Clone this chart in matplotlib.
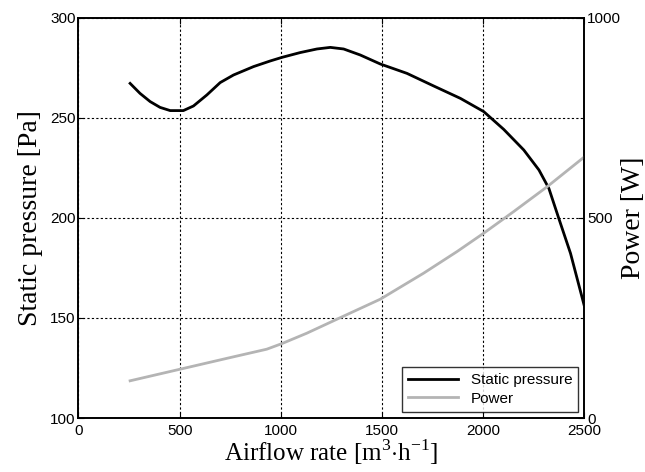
import matplotlib
matplotlib.use("Agg")
import matplotlib.pyplot as plt
import numpy as np

# airflow rate [m3/h] and readings taken from the curves
flow_sp = [255, 304, 354, 403, 453, 518, 568, 634, 700, 766, 865, 947, 1005,
           1095, 1178, 1244, 1310, 1392, 1491, 1623, 1755, 1887, 2002, 2101,
           2200, 2275, 2324, 2373, 2431, 2500]
static_pressure = [267.3, 262.3, 258.2, 255.3, 253.7, 253.7, 256.0, 261.5, 267.7,
                   271.5, 275.7, 278.5, 280.3, 282.7, 284.5, 285.3, 284.5, 281.5,
                   277.0, 272.3, 266.0, 259.8, 253.2, 244.3, 234.0, 224.0, 214.8,
                   199.8, 182.3, 155.7]

flow_pw = [255, 502, 749, 930, 1005, 1128, 1277, 1491, 1705, 1870, 2002, 2150,
           2315, 2500]
power = [93, 122, 151, 172, 186, 212, 247, 297, 362, 416, 462, 516, 578, 653]

x_ticks = [0, 500, 1000, 1500, 2000, 2500]
y_ticks = [100, 150, 200, 250, 300]
y2_ticks = [0, 500, 1000]

plt.rcParams['font.family'] = ['Liberation Sans', 'DejaVu Sans']
plt.rcParams['mathtext.fontset'] = 'custom'
plt.rcParams['mathtext.rm'] = 'Liberation Serif'

fig = plt.figure(figsize=(6.45, 4.72), dpi=100)
ax = fig.add_axes([0.1217, 0.1144, 0.7845, 0.8475])
ax2 = ax.twinx()

l1, = ax.plot(flow_sp, static_pressure, color='black', lw=2.0, label='Static pressure')
l2, = ax2.plot(flow_pw, power, color='#b4b4b4', lw=2.0, label='Power')

ax.set_xlim(0, 2500)
ax.set_ylim(100, 300)
ax2.set_ylim(0, 1000)
ax.set_xticks(x_ticks)
ax.set_yticks(y_ticks)
ax2.set_yticks(y2_ticks)

ax.grid(True, color='black', linestyle=(0, (2, 2)), linewidth=0.8)
for a in (ax, ax2):
    a.tick_params(direction='in', length=4, labelsize=11, pad=2)
    for s in a.spines.values():
        s.set_linewidth(1.2)
ax.tick_params(top=True)
ax.tick_params(axis='x', pad=4)

serif = ['Liberation Serif', 'DejaVu Serif']
ax.set_xlabel(r'Airflow rate [m$^{3}$$\cdot$h$^{-1}$]', family=serif, fontsize=18, labelpad=0)
ax.set_ylabel('Static pressure [Pa]', family=serif, fontsize=20, labelpad=5)
ax2.set_ylabel('Power [W]', family=serif, fontsize=20, labelpad=0)

leg = ax2.legend([l1, l2], ['Static pressure', 'Power'], loc='lower right',
                 fontsize=11, frameon=True, fancybox=False, edgecolor='black',
                 borderaxespad=0.4, handlelength=3.3, borderpad=0.4, labelspacing=0.3)
leg.get_frame().set_linewidth(1.0)

fig.savefig('out.png', dpi=100)
